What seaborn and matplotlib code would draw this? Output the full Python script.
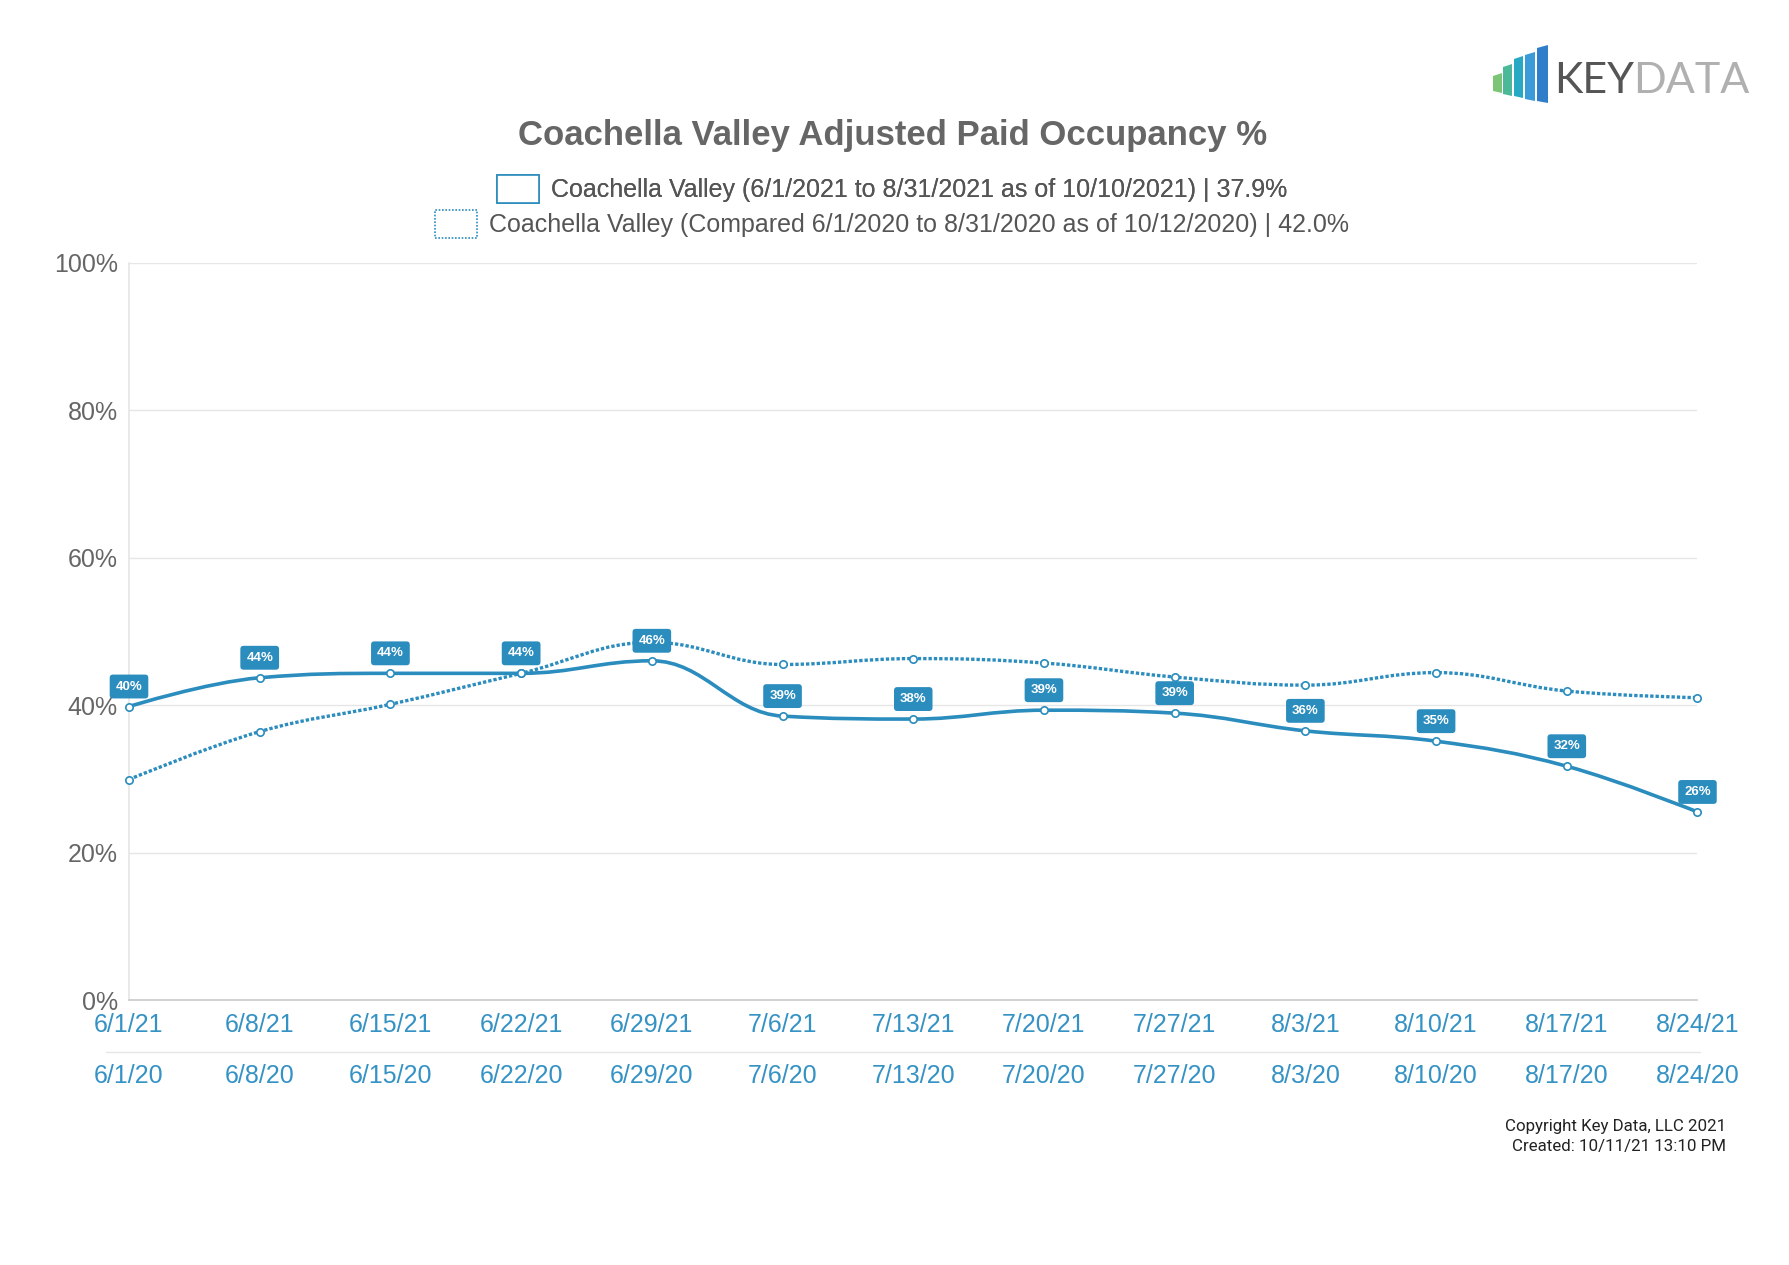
import matplotlib
matplotlib.use("Agg")
import matplotlib.pyplot as plt
import seaborn as sns
import numpy as np
from matplotlib.path import Path
from matplotlib.patches import PathPatch, Polygon, Rectangle
from matplotlib.lines import Line2D

# data
weeks_2021 = ["6/1/21", "6/8/21", "6/15/21", "6/22/21", "6/29/21", "7/6/21", "7/13/21",
              "7/20/21", "7/27/21", "8/3/21", "8/10/21", "8/17/21", "8/24/21"]
weeks_2020 = ["6/1/20", "6/8/20", "6/15/20", "6/22/20", "6/29/20", "7/6/20", "7/13/20",
              "7/20/20", "7/27/20", "8/3/20", "8/10/20", "8/17/20", "8/24/20"]
occ_2021 = [39.8, 43.7, 44.3, 44.3, 46.0, 38.5, 38.1, 39.3, 38.9, 36.5, 35.1, 31.7, 25.5]
occ_2020 = [29.9, 36.4, 40.1, 44.3, 48.5, 45.5, 46.3, 45.7, 43.8, 42.7, 44.4, 41.9, 41.0]
label_2021 = ["40%", "44%", "44%", "44%", "46%", "39%", "38%", "39%", "39%", "36%", "35%", "32%", "26%"]
legend_2021 = "Coachella Valley (6/1/2021 to 8/31/2021 as of 10/10/2021) | 37.9%"
legend_2020 = "Coachella Valley (Compared 6/1/2020 to 8/31/2020 as of 10/12/2020) | 42.0%"

BLUE = "#2b8cbe"
TICK_BLUE = "#3592c4"
GRAY = "#666666"

W, H = 1790, 1265
sns.set_theme(style="white")
plt.rcParams["font.family"] = ["Liberation Sans", "DejaVu Sans"]

fig = plt.figure(figsize=(W / 100, H / 100), dpi=100)


def fx(px):
    return px / W


def fy(py):
    return 1 - py / H


ax = fig.add_axes([fx(129), fy(1000), fx(1697.5) - fx(129), fy(262.6) - fy(1000)])


def spline_path(xs, ys, smoothing=1.5):
    # highcharts-style spline through the points, as cubic bezier segments
    n = len(xs)
    left, right = [None] * n, [None] * n
    d = smoothing + 1
    for i in range(1, n - 1):
        px_, py_, x, y, nx, ny = xs[i - 1], ys[i - 1], xs[i], ys[i], xs[i + 1], ys[i + 1]
        lx, ly = (smoothing * x + px_) / d, (smoothing * y + py_) / d
        rx, ry = (smoothing * x + nx) / d, (smoothing * y + ny) / d
        corr = ((ry - ly) * (rx - x)) / (rx - lx) + y - ry
        ly += corr
        ry += corr
        if ly > py_ and ly > y:
            ly = max(py_, y)
            ry = 2 * y - ly
        elif ly < py_ and ly < y:
            ly = min(py_, y)
            ry = 2 * y - ly
        if ry > ny and ry > y:
            ry = max(ny, y)
            ly = 2 * y - ry
        elif ry < ny and ry < y:
            ry = min(ny, y)
            ly = 2 * y - ry
        left[i], right[i] = (lx, ly), (rx, ry)
    verts = [(xs[0], ys[0])]
    codes = [Path.MOVETO]
    for i in range(1, n):
        c1 = right[i - 1] if right[i - 1] else (xs[i - 1], ys[i - 1])
        c2 = left[i] if left[i] else (xs[i], ys[i])
        verts += [c1, c2, (xs[i], ys[i])]
        codes += [Path.CURVE4] * 3
    return Path(verts, codes)


idx = list(range(len(weeks_2021)))

ax.add_patch(PathPatch(spline_path(idx, occ_2020), fill=False, edgecolor=BLUE, lw=2.4,
                       linestyle=(0, (1, 0.6)), zorder=3))
ax.add_patch(PathPatch(spline_path(idx, occ_2021), fill=False, edgecolor=BLUE, lw=2.6,
                       capstyle="round", zorder=4))

for vals in (occ_2020, occ_2021):
    sns.scatterplot(x=idx, y=vals, ax=ax, s=28, color="white", edgecolor=BLUE,
                    linewidth=1.2, zorder=5, clip_on=False)

for i, (v, lab) in enumerate(zip(occ_2021, label_2021)):
    ax.annotate(lab, (i, v), xytext=(0, 20), textcoords="offset pixels",
                ha="center", va="center", fontsize=9.5, fontweight="bold", color="white",
                bbox=dict(boxstyle="round,pad=0.45,rounding_size=0.25", fc=BLUE, ec="none"),
                zorder=6, annotation_clip=False)

ax.set_xlim(0, 12)
ax.set_ylim(0, 100)
ax.set_yticks([0, 20, 40, 60, 80, 100])
ax.set_yticklabels([f"{t}%" for t in [0, 20, 40, 60, 80, 100]], fontsize=18, color=GRAY)
ax.set_xticks(idx)
ax.set_xticklabels([f"{a}\n{b}" for a, b in zip(weeks_2021, weeks_2020)],
                   fontsize=18, color=TICK_BLUE, linespacing=2.45)
ax.tick_params(axis="x", length=0, pad=9)
ax.tick_params(axis="y", length=0, pad=8)
ax.grid(axis="y", color="#e6e6e6", lw=1)
for s in ["top", "right"]:
    ax.spines[s].set_visible(False)
ax.spines["left"].set_color("#e6e6e6")
ax.spines["bottom"].set_color("#cccccc")
ax.set_xlabel("")
ax.set_ylabel("")

# separator between the two tick rows
fig.add_artist(Line2D([fx(106), fx(1700)], [fy(1052), fy(1052)], color="#e6e6e6", lw=1))

# title
fig.text(0.4985, fy(135), "Coachella Valley Adjusted Paid Occupancy %", ha="center", va="center",
         fontsize=25, fontweight="bold", color=GRAY)

# legend
leg_kw = dict(loc="center", frameon=False, fontsize=18, handlelength=1.65, handleheight=1.3,
              handletextpad=0.5, labelcolor="#555555")
leg1 = fig.legend(handles=[Rectangle((0, 0), 1, 1, fc="white", ec=BLUE, lw=1.2)], labels=[legend_2021],
                  bbox_to_anchor=(0.4985, fy(189)), **leg_kw)
fig.add_artist(leg1)
fig.legend(handles=[Rectangle((0, 0), 1, 1, fc="white", ec=BLUE, lw=1.2, linestyle=(0, (1, 1)))],
           labels=[legend_2020], bbox_to_anchor=(0.4985, fy(224)), **leg_kw)

# footer
fig.text(fx(1726), fy(1127), "Copyright Key Data, LLC 2021", ha="right", va="center",
         fontsize=12.2, color="#222222", family=["Roboto", "DejaVu Sans"])
fig.text(fx(1726), fy(1146), "Created: 10/11/21 13:10 PM", ha="right", va="center",
         fontsize=12.2, color="#222222", family=["Roboto", "DejaVu Sans"])

# logo
bars = [(1493, 1502, 73, 93, "#7cc576"), (1503, 1512, 64, 96, "#4cb89a"),
        (1514, 1523, 56, 98, "#27a9c4"), (1525, 1535, 52, 101, "#3b9ad8"),
        (1537, 1548, 45, 103, "#2f7ec9")]
for x0, x1, t, b, c in bars:
    fig.add_artist(Polygon([(fx(x0), fy(b - 2)), (fx(x1), fy(b)), (fx(x1), fy(t)), (fx(x0), fy(t + 3))],
                           closed=True, fc=c, ec="none", transform=fig.transFigure))
fig.text(fx(1554), fy(93), "KEY", ha="left", va="baseline", fontsize=31, color="#555555",
         family=["Lato", "DejaVu Sans"])
fig.text(fx(1633), fy(93), "DATA", ha="left", va="baseline", fontsize=31, color="#b0b0b0",
         family=["Lato", "DejaVu Sans"])

fig.savefig("out.png", dpi=100, facecolor="white")
